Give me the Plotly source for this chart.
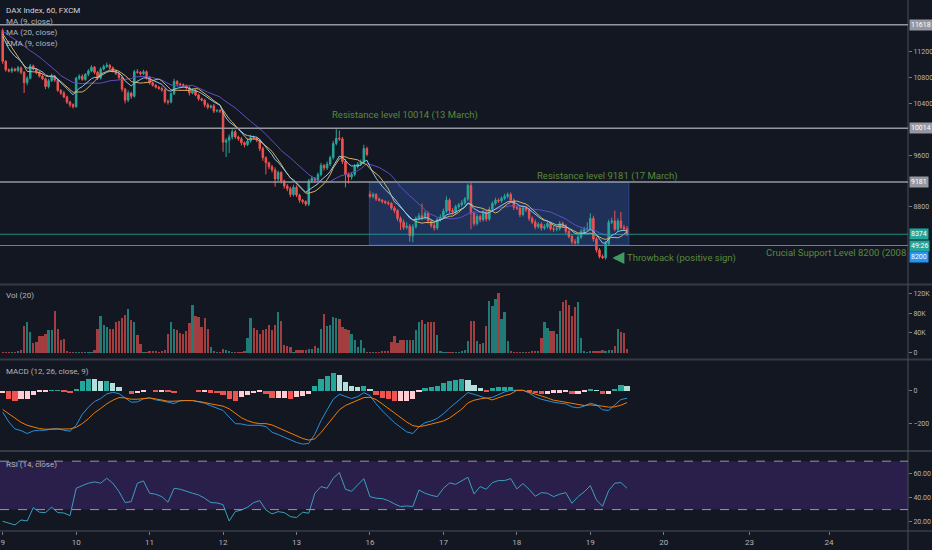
import pandas as pd
import plotly.graph_objects as go
from plotly.subplots import make_subplots

# DAX Index, 60 min, FXCM -- 9 to 19 March, 24 bars a day
day_labels = ['9', '10', '11', '12', '13', '16', '17', '18', '19', '20', '23', '24']
day_start = [0, 24, 48, 72, 96, 120, 144, 168, 192, 216, 244, 270]

closes = [
    # 9
    11050, 10920, 10900, 10930, 10910, 10950, 10880, 10720, 10790, 10980, 10930, 10880,
    10820, 10780, 10660, 10750, 10820, 10760, 10600, 10560, 10500, 10420, 10380, 10350,
    # 10
    10790, 10820, 10770, 10850, 10900, 10960, 10880, 10790, 10930, 10970, 10990, 10950,
    10900, 10860, 10800, 10620, 10450, 10560, 10510, 10890, 10880, 10860, 10890, 10800,
    # 11
    10720, 10680, 10650, 10630, 10610, 10430, 10420, 10550, 10740, 10700, 10690, 10670,
    10640, 10560, 10600, 10530, 10470, 10450, 10380, 10340, 10360, 10280, 10290, 10280,
    # 12
    9800, 9830, 9880, 9960, 9880, 9850, 9790, 9760, 9820, 9870, 9860, 9830,
    9700, 9560, 9480, 9420, 9370, 9230, 9330, 9200, 9120, 9080, 8990, 9100,
    # 13
    8980, 8900, 8880, 8840, 9200, 9240, 9210, 9300, 9440, 9400, 9460, 9560,
    9780, 9860, 9850, 9500, 9300, 9260, 9300, 9420, 9460, 9490, 9700, 9610,
    # 16
    8960, 8990, 8920, 8900, 8880, 8860, 8850, 8780, 8740, 8620, 8560, 8480,
    8500, 8350, 8490, 8620, 8660, 8630, 8700, 8580, 8510, 8470, 8600, 8640,
    # 17
    8730, 8900, 8740, 8720, 8800, 8830, 8860, 8920, 9130, 8700, 8540, 8650,
    8600, 8720, 8610, 8760, 8850, 8900, 8890, 8930, 8960, 8990, 8900, 8790,
    # 18
    8780, 8680, 8780, 8750, 8620, 8560, 8490, 8530, 8470, 8490, 8540, 8460,
    8450, 8460, 8540, 8500, 8420, 8340, 8260, 8240, 8330, 8420, 8450, 8460,
    # 19
    8620, 8300, 8130, 8030, 8010, 8230, 8560, 8580, 8450, 8580, 8480, 8460, 8374,
]
# bars that open away from the previous close
gap_opens = {0: 11530, 120: 8990}

wick_up = [
    30, 20, 20, 30, 20, 30, 20, 20, 30, 30, 20, 20, 20, 30, 20, 30, 40, 20, 20, 20, 30, 20, 20, 20,
    20, 30, 30, 20, 30, 30, 20, 20, 30, 30, 40, 20, 20, 20, 20, 30, 20, 40, 20, 30, 40, 20, 30, 20,
    20, 20, 20, 20, 30, 20, 30, 20, 40, 20, 20, 20, 20, 30, 30, 20, 20, 20, 20, 30, 20, 30, 20, 20,
    20, 30, 40, 40, 30, 20, 30, 20, 40, 40, 30, 20, 20, 30, 20, 20, 30, 40, 30, 20, 20, 30, 30, 40,
    30, 20, 20, 20, 30, 40, 20, 30, 40, 20, 40, 30, 40, 140, 120, 30, 40, 30, 30, 40, 30, 40, 60, 30,
    50, 30, 20, 20, 20, 20, 30, 20, 30, 20, 30, 40, 60, 30, 40, 30, 40, 190, 40, 30, 20, 40, 30, 40,
    40, 60, 30, 40, 30, 30, 40, 30, 30, 40, 30, 40, 30, 40, 30, 40, 30, 40, 30, 30, 40, 30, 30, 30,
    30, 30, 40, 30, 30, 30, 40, 30, 30, 40, 30, 30, 40, 30, 40, 30, 30, 30, 30, 40, 30, 40, 40, 100,
    80, 40, 30, 30, 30, 40, 40, 50, 160, 40, 140, 40, 40,
]
wick_dn = [
    40, 30, 20, 30, 20, 30, 30, 160, 40, 20, 20, 30, 20, 20, 40, 30, 20, 30, 20, 30, 20, 30, 40, 30,
    20, 30, 20, 20, 30, 20, 30, 30, 20, 20, 20, 30, 20, 20, 30, 40, 50, 30, 40, 20, 20, 30, 20, 30,
    30, 20, 20, 20, 30, 30, 40, 20, 20, 30, 20, 20, 30, 40, 20, 20, 30, 20, 40, 30, 20, 30, 20, 30,
    150, 230, 200, 40, 30, 30, 40, 40, 20, 30, 20, 30, 40, 50, 180, 40, 40, 120, 40, 40, 40, 40, 40, 30,
    30, 40, 40, 30, 30, 30, 40, 30, 30, 40, 30, 30, 30, 30, 30, 40, 200, 100, 40, 30, 30, 30, 30, 30,
    30, 30, 30, 20, 30, 20, 30, 30, 40, 40, 120, 40, 30, 90, 100, 30, 30, 40, 30, 40, 40, 40, 30, 30,
    30, 30, 40, 40, 30, 30, 30, 30, 30, 250, 40, 30, 40, 30, 40, 30, 30, 30, 30, 30, 30, 30, 30, 40,
    30, 40, 30, 30, 40, 30, 40, 30, 40, 30, 30, 30, 40, 30, 30, 30, 40, 30, 40, 30, 30, 30, 30, 30,
    30, 40, 40, 30, 20, 30, 30, 30, 30, 30, 30, 30, 30,
]

# closes of the hours before the visible window (feed the moving averages)
lead_in = [11620, 11580, 11540, 11590, 11560, 11510, 11530, 11570, 11540, 11500,
           11520, 11560, 11530, 11490, 11510, 11550, 11540, 11520, 11541]

# volume, thousands
volume_k = [
    2, 2, 2, 2, 2, 3, 5, 55, 62, 42, 20, 22, 33, 33, 38, 46, 46, 85, 47, 25, 27, 3, 2, 2,
    2, 2, 2, 2, 2, 2, 5, 47, 75, 57, 52, 47, 48, 62, 65, 70, 76, 88, 67, 62, 35, 17, 2, 2,
    3, 4, 3, 2, 3, 5, 37, 63, 48, 45, 40, 38, 44, 60, 97, 74, 73, 53, 70, 48, 12, 3, 2, 2,
    8, 5, 3, 2, 2, 2, 2, 3, 30, 70, 50, 45, 37, 45, 48, 57, 45, 57, 83, 65, 15, 14, 12, 2,
    6, 6, 5, 6, 7, 8, 13, 9, 48, 78, 55, 56, 72, 70, 68, 52, 48, 45, 38, 25, 12, 25, 9, 2,
    2, 2, 2, 2, 3, 3, 3, 22, 33, 19, 25, 25, 25, 25, 25, 45, 63, 66, 58, 62, 62, 62, 35, 3,
    2, 2, 2, 2, 2, 2, 3, 5, 23, 64, 65, 23, 17, 19, 54, 105, 95, 108, 120, 68, 82, 23, 3, 2,
    2, 2, 2, 2, 2, 3, 3, 3, 30, 62, 50, 44, 44, 38, 84, 103, 107, 97, 74, 92, 103, 30, 3, 2,
    3, 3, 4, 4, 5, 3, 5, 6, 13, 47, 42, 40, 7,
]

# MACD and RSI read every second bar
ind_step = 2
macd_line = [
    -130, -190, -232, -242, -260, -244, -240, -240, -232, -230, -240, -246,
    -210, -144, -100, -66, -48, -20, -10, -18, -44, -70, -68, -50,
    -44, -56, -62, -72, -78, -60, -60, -60, -68, -76, -92, -104,
    -120, -160, -200, -202, -210, -210, -210, -218, -252, -266, -282, -302,
    -314, -324, -320, -264, -182, -116, -52, -22, -36, -48, -36, -12,
    -30, -80, -122, -160, -194, -222, -250, -260, -220, -194, -184, -168,
    -140, -106, -76, -42, -12, -22, -32, -46, -40, -22, -8, 2,
    4, 2, -14, -38, -52, -62, -70, -76, -80, -98, -104, -94,
    -76, -86, -116, -120, -88, -54, -46,
]
signal_line = [
    -114, -140, -168, -192, -210, -220, -230, -234, -234, -234, -234, -232,
    -222, -200, -170, -134, -108, -80, -58, -42, -44, -52, -52, -46,
    -44, -50, -58, -64, -64, -60, -60, -60, -64, -72, -80, -88,
    -94, -110, -138, -164, -182, -194, -200, -200, -208, -224, -240, -254,
    -274, -290, -300, -292, -254, -208, -160, -116, -90, -74, -56, -42,
    -40, -54, -80, -108, -134, -162, -190, -212, -218, -212, -204, -194,
    -184, -166, -140, -112, -74, -58, -50, -44, -56, -42, -30, -20,
    2, 2, -8, -22, -32, -44, -58, -64, -70, -78, -86, -90,
    -86, -88, -94, -100, -98, -88, -72,
]
rsi_line = [
    20.3, 19.0, 17.3, 21.4, 20.6, 31.6, 27.8, 27.5, 32.0, 27.5, 27.2, 25.0,
    47.6, 49.8, 51.8, 52.9, 51.8, 55.9, 51.8, 44.9, 35.8, 36.6, 51.8, 53.7,
    43.5, 42.7, 40.7, 36.1, 47.6, 46.8, 44.9, 43.5, 42.1, 39.4, 35.8, 35.5,
    34.1, 20.6, 28.3, 29.7, 32.0, 35.8, 37.4, 29.7, 26.4, 28.3, 27.5, 24.2,
    23.4, 27.8, 27.0, 43.5, 49.0, 47.6, 55.9, 60.6, 46.8, 45.1, 50.4, 55.6,
    40.7, 39.4, 39.1, 37.4, 34.7, 32.5, 33.0, 32.5, 46.2, 43.5, 41.8, 40.7,
    47.6, 52.0, 50.9, 53.7, 56.7, 42.9, 49.0, 46.8, 52.3, 54.0, 54.0, 55.6,
    47.1, 51.5, 46.8, 41.0, 44.0, 43.5, 40.7, 42.7, 44.0, 35.2, 40.7, 44.6,
    49.8, 38.0, 32.7, 45.7, 51.8, 52.3, 47.6,
]

price_ticks = [8800, 9600, 10400, 10800, 11200]
levels_grey = [11618, 10014, 9181]
last_price = 8374
support = 8200
box_start, box_end = 119.8, 204.6

UP = '#26a69a'
DOWN = '#ef5350'
BG = '#131722'
TXT = '#b2b5be'
GREEN_TXT = '#5a8a3a'
FONT = 'Roboto, Liberation Sans, sans-serif'

n = len(closes)
bars = list(range(n))
opens = [gap_opens.get(i, closes[i - 1] if i else closes[0]) for i in bars]
highs = [max(o, c) + w for o, c, w in zip(opens, closes, wick_up)]
lows = [min(o, c) - w for o, c, w in zip(opens, closes, wick_dn)]

s = pd.Series(lead_in + closes)
k = len(lead_in)
ma9 = s.rolling(9).mean().iloc[k:]
ma20 = s.rolling(20).mean().iloc[k:]
ema9 = s.ewm(span=9, adjust=False).mean().iloc[k:]

vol_colors = ['rgba(38,166,154,0.7)' if c >= o else 'rgba(239,83,80,0.65)' for o, c in zip(opens, closes)]

ind_x = list(range(0, n, ind_step))
hist = [m - sg for m, sg in zip(macd_line, signal_line)]
hist_colors = []
for j, h in enumerate(hist):
    prev = hist[j - 1] if j else h
    if h >= 0:
        hist_colors.append('#26a69a' if h >= prev else '#b2dfdb')
    else:
        hist_colors.append('#ef5350' if h < prev else '#ffcdd2')

fig = make_subplots(rows=4, cols=1, shared_xaxes=True, vertical_spacing=0.01)

fig.add_trace(go.Candlestick(x=bars, open=opens, high=highs, low=lows, close=closes,
                             increasing=dict(line=dict(color=UP, width=1), fillcolor=UP),
                             decreasing=dict(line=dict(color=DOWN, width=1), fillcolor=DOWN),
                             whiskerwidth=0, hoverinfo='skip'), 1, 1)
fig.add_trace(go.Scatter(x=bars, y=ma20, mode='lines', line=dict(color='#5e4fc2', width=1)), 1, 1)
fig.add_trace(go.Scatter(x=bars, y=ma9, mode='lines', line=dict(color='#d8b160', width=1)), 1, 1)
fig.add_trace(go.Scatter(x=bars, y=ema9, mode='lines', line=dict(color='#8ec9e6', width=1)), 1, 1)

fig.add_trace(go.Bar(x=bars, y=[v * 1000 for v in volume_k], marker=dict(color=vol_colors, line_width=0),
                     width=0.75), 2, 1)

fig.add_trace(go.Bar(x=ind_x, y=hist, marker=dict(color=hist_colors, line_width=0), width=1.7), 3, 1)
fig.add_trace(go.Scatter(x=ind_x, y=macd_line, mode='lines', line=dict(color='#2a8fd8', width=1)), 3, 1)
fig.add_trace(go.Scatter(x=ind_x, y=signal_line, mode='lines', line=dict(color='#f57c00', width=1)), 3, 1)

fig.add_trace(go.Scatter(x=ind_x, y=rsi_line, mode='lines', line=dict(color='#3a9fc0', width=1)), 4, 1)

# panel positions (paper units, plot area is 531 px high)
doms = [[0.467, 1.0], [0.3258, 0.4614], [0.1525, 0.3202], [0.0, 0.1488]]
for r, d in enumerate(doms, start=1):
    fig.update_yaxes(domain=d, row=r, col=1)

axis_common = dict(showgrid=False, zeroline=False, side='right', ticks='outside', ticklen=3,
                   tickcolor='#787b86', tickfont=dict(size=7, color=TXT, family=FONT))
fig.update_yaxes(range=[7619, 12000], tickvals=price_ticks, ticktext=[str(t) for t in price_ticks],
                 row=1, col=1, **axis_common)
fig.update_yaxes(range=[-10500, 134700], tickvals=[0, 40000, 80000, 120000],
                 ticktext=['0', '40K', '80K', '120K'], row=2, col=1, **axis_common)
fig.update_yaxes(range=[-360, 180], tickvals=[0, -200], ticktext=['0', '\u2212200'], row=3, col=1, **axis_common)
fig.update_yaxes(range=[12.3, 77.6], tickvals=[20, 40, 60], ticktext=['20.00', '40.00', '60.00'],
                 row=4, col=1, **axis_common)

fig.update_xaxes(range=[-0.88, 295.8], showgrid=False, zeroline=False, rangeslider_visible=False,
                 tickvals=day_start, ticktext=day_labels)
fig.update_xaxes(ticks='outside', ticklen=3, tickcolor='#787b86',
                 tickfont=dict(size=8, color=TXT, family=FONT), row=4, col=1)

shapes = []
# panel separators and axis lines
for yp in [0.4642, 0.3230, 0.1507]:
    shapes.append(dict(type='line', xref='paper', yref='paper', x0=0, x1=1.03, y0=yp, y1=yp,
                       line=dict(color='#363a45', width=2)))
shapes.append(dict(type='line', xref='paper', yref='paper', x0=1, x1=1, y0=-0.04, y1=1,
                   line=dict(color='#4a4e59', width=1)))
shapes.append(dict(type='line', xref='paper', yref='paper', x0=0, x1=1.03, y0=0, y1=0,
                   line=dict(color='#4a4e59', width=1)))
# price levels
for lv in levels_grey:
    shapes.append(dict(type='line', xref='paper', yref='y', x0=0, x1=1, y0=lv, y1=lv,
                       line=dict(color='#9598a1', width=1.5)))
shapes.append(dict(type='line', xref='paper', yref='y', x0=0, x1=1, y0=last_price, y1=last_price,
                   line=dict(color='rgba(38,166,154,0.8)', width=1)))
shapes.append(dict(type='line', xref='paper', yref='y', x0=0, x1=1, y0=support, y1=support,
                   line=dict(color='#2196f3', width=1)))
# range box
shapes.append(dict(type='rect', xref='x', yref='y', x0=box_start, x1=box_end, y0=support + 5, y1=levels_grey[2],
                   fillcolor='rgba(60,110,220,0.3)', line=dict(color='rgba(60,110,220,0.45)', width=1),
                   layer='below'))
# RSI band
shapes.append(dict(type='rect', xref='paper', yref='y4', x0=0, x1=1, y0=30, y1=70,
                   fillcolor='rgba(110,50,200,0.25)', line_width=0, layer='below'))
for lv in [30, 70]:
    shapes.append(dict(type='line', xref='paper', yref='y4', x0=0, x1=1, y0=lv, y1=lv,
                       line=dict(color='#9598a1', width=1, dash='dash')))

ann = []


def label(text, ypx, color=TXT, size=8):
    ann.append(dict(text=text, xref='paper', yref='paper', x=0.004, y=1 - ypx / 531, xanchor='left',
                    yanchor='middle', showarrow=False, font=dict(size=size, color=color, family=FONT)))


label('DAX Index, 60, FXCM', 11, '#d1d4dc', 8)
label('MA (9, close)', 22)
label('MA (20, close)', 33)
label('EMA (9, close)', 44)
label('Vol (20)', 295)
label('MACD (12, 26, close, 9)', 371)
label('RSI (14, close)', 464)


def note(text, x, y, xref='x', xanchor='left'):
    ann.append(dict(text=text, xref=xref, yref='y', x=x, y=y, xanchor=xanchor, yanchor='middle',
                    showarrow=False, font=dict(size=9.5, color=GREEN_TXT, family=FONT)))


note('Resistance level 10014 (13 March)', 107, 10220)
note('Resistance level 9181 (17 March)', 173.9, 9276)
note('Crucial Support Level 8200 (2008', 1, 8084, xref='paper', xanchor='right')
note('Throwback (positive sign)', 203.2, 8006)
ann.append(dict(text='', x=199.2, y=8006, xref='x', yref='y', ax=7, ay=0, showarrow=True,
                arrowhead=2, arrowsize=0.6, arrowwidth=4, arrowcolor='#3f9b5f'))


def price_box(text, y, bg, yshift=0):
    ann.append(dict(text=text, xref='paper', yref='y', x=1, y=y, xanchor='left', yanchor='middle',
                    xshift=1, yshift=yshift, showarrow=False, bgcolor=bg, borderpad=1,
                    font=dict(size=7, color='#ffffff', family=FONT)))


for lv in levels_grey:
    price_box(str(lv), lv, '#9598a1')
price_box(str(last_price), last_price, '#26a69a')
price_box('49:26', last_price, '#26a69a', yshift=-12)
price_box(str(support), support, '#2196f3', yshift=-12)

fig.update_layout(width=932, height=550, margin=dict(l=0, r=24, t=0, b=19),
                  paper_bgcolor=BG, plot_bgcolor=BG, showlegend=False, bargap=0,
                  shapes=shapes, annotations=ann, font=dict(family=FONT, color=TXT))

fig.write_html('out.html', config={'displayModeBar': False},
               post_script="document.body.style.margin='0';"
                           "document.body.style.background='#131722';"
                           "document.body.style.overflow='hidden';")
